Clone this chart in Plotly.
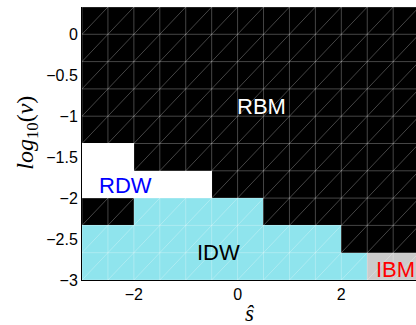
import plotly.graph_objects as go

# grid of the phase diagram (cell centres)
s_hat = [-2.75, -2.25, -1.75, -1.25, -0.75, -0.25, 0.25, 0.75, 1.25, 1.75, 2.25, 2.75, 3.25]
log_nu = [-2.8333, -2.5, -2.1667, -1.8333, -1.5, -1.1667, -0.8333, -0.5, -0.1667, 0.1667]
# phase codes: 0 = RBM (black), 1 = RDW (white), 2 = IDW (cyan), 3 = IBM (grey)
phase = [
    [2, 2, 2, 2, 2, 2, 2, 2, 2, 2, 2, 3, 3],
    [2, 2, 2, 2, 2, 2, 2, 2, 2, 2, 0, 0, 0],
    [0, 0, 2, 2, 2, 2, 2, 0, 0, 0, 0, 0, 0],
    [1, 1, 1, 1, 1, 0, 0, 0, 0, 0, 0, 0, 0],
    [1, 1, 0, 0, 0, 0, 0, 0, 0, 0, 0, 0, 0],
    [0, 0, 0, 0, 0, 0, 0, 0, 0, 0, 0, 0, 0],
    [0, 0, 0, 0, 0, 0, 0, 0, 0, 0, 0, 0, 0],
    [0, 0, 0, 0, 0, 0, 0, 0, 0, 0, 0, 0, 0],
    [0, 0, 0, 0, 0, 0, 0, 0, 0, 0, 0, 0, 0],
    [0, 0, 0, 0, 0, 0, 0, 0, 0, 0, 0, 0, 0],
]
phase_labels = ["RBM", "RDW", "IDW", "IBM"]
label_x = [0.47, -2.17, -0.37, 3.05]
label_y = [-0.88, -1.84, -2.66, -2.87]
label_colors = ["white", "#0000ff", "black", "#ff0000"]

x_ticks = [-2, 0, 2]
x_ticktext = ["\u22122", "0", "2"]
y_ticks = [-3, -2.5, -2, -1.5, -1, -0.5, 0]
y_ticktext = ["\u22123", "\u22122.5", "\u22122", "\u22121.5", "\u22121", "\u22120.5", "0"]

BLACK, WHITE, CYAN, GREY = "#000000", "#ffffff", "#8fe4ed", "#cbcbcb"
colorscale = [[0, BLACK], [0.25, BLACK], [0.25, WHITE], [0.5, WHITE],
              [0.5, CYAN], [0.75, CYAN], [0.75, GREY], [1, GREY]]

fig = go.Figure()
fig.add_trace(go.Heatmap(x=s_hat, y=log_nu, z=phase, colorscale=colorscale,
                         zmin=-0.5, zmax=3.5, showscale=False, hoverinfo="skip"))

# triangular mesh edges derived from the cell grid
dx = s_hat[1] - s_hat[0]
dy = log_nu[1] - log_nu[0]
xe = [c - dx / 2 for c in s_hat] + [s_hat[-1] + dx / 2]
ye = [c - dy / 2 for c in log_nu] + [log_nu[-1] + dy / 2]
mx, my = [], []
for x in xe:
    mx += [x, x, None]; my += [ye[0], ye[-1], None]
for y in ye:
    mx += [xe[0], xe[-1], None]; my += [y, y, None]
for i in range(len(xe) - 1):
    for j in range(len(ye) - 1):
        mx += [xe[i], xe[i + 1], None]; my += [ye[j], ye[j + 1], None]
fig.add_trace(go.Scatter(x=mx, y=my, mode="lines", hoverinfo="skip",
                         line=dict(color="rgba(255,255,255,0.27)", width=1),
                         showlegend=False))

for t, x, y, c in zip(phase_labels, label_x, label_y, label_colors):
    fig.add_annotation(x=x, y=y, text=t, showarrow=False,
                       font=dict(family="Liberation Sans, Arial", size=22, color=c))

fig.add_annotation(xref="paper", yref="paper", x=-0.218, xanchor="left", y=0.54,
                   text="<i>log</i><sub>10</sub>(<i>\u03bd</i>)",
                   textangle=-90, showarrow=False,
                   font=dict(family="Liberation Serif, DejaVu Serif", size=24, color="black"))
fig.add_annotation(xref="paper", yref="paper", x=0.503, y=-0.075, text="<i>\u015d</i>",
                   showarrow=False, yanchor="top", borderpad=0,
                   font=dict(family="Liberation Serif, DejaVu Serif", size=23, color="black"))

fig.update_layout(
    width=416, height=325,
    margin=dict(l=82, r=0, t=7, b=45),
    paper_bgcolor="white", plot_bgcolor="white",
    showlegend=False,
    font=dict(family="Liberation Sans, Arial", size=16, color="black"),
    xaxis=dict(range=[-3, 3.44], tickvals=x_ticks, ticktext=x_ticktext, showgrid=False,
               zeroline=False, showline=True, linecolor="black", linewidth=1, ticks=""),
    yaxis=dict(range=[-3, 0.3333], tickvals=y_ticks, ticktext=y_ticktext, showgrid=False,
               zeroline=False, showline=True, linecolor="black", linewidth=1, ticks=""),
)
fig.write_html("out.html", config={"displayModeBar": False},
               post_script="document.body.style.margin='0';")
